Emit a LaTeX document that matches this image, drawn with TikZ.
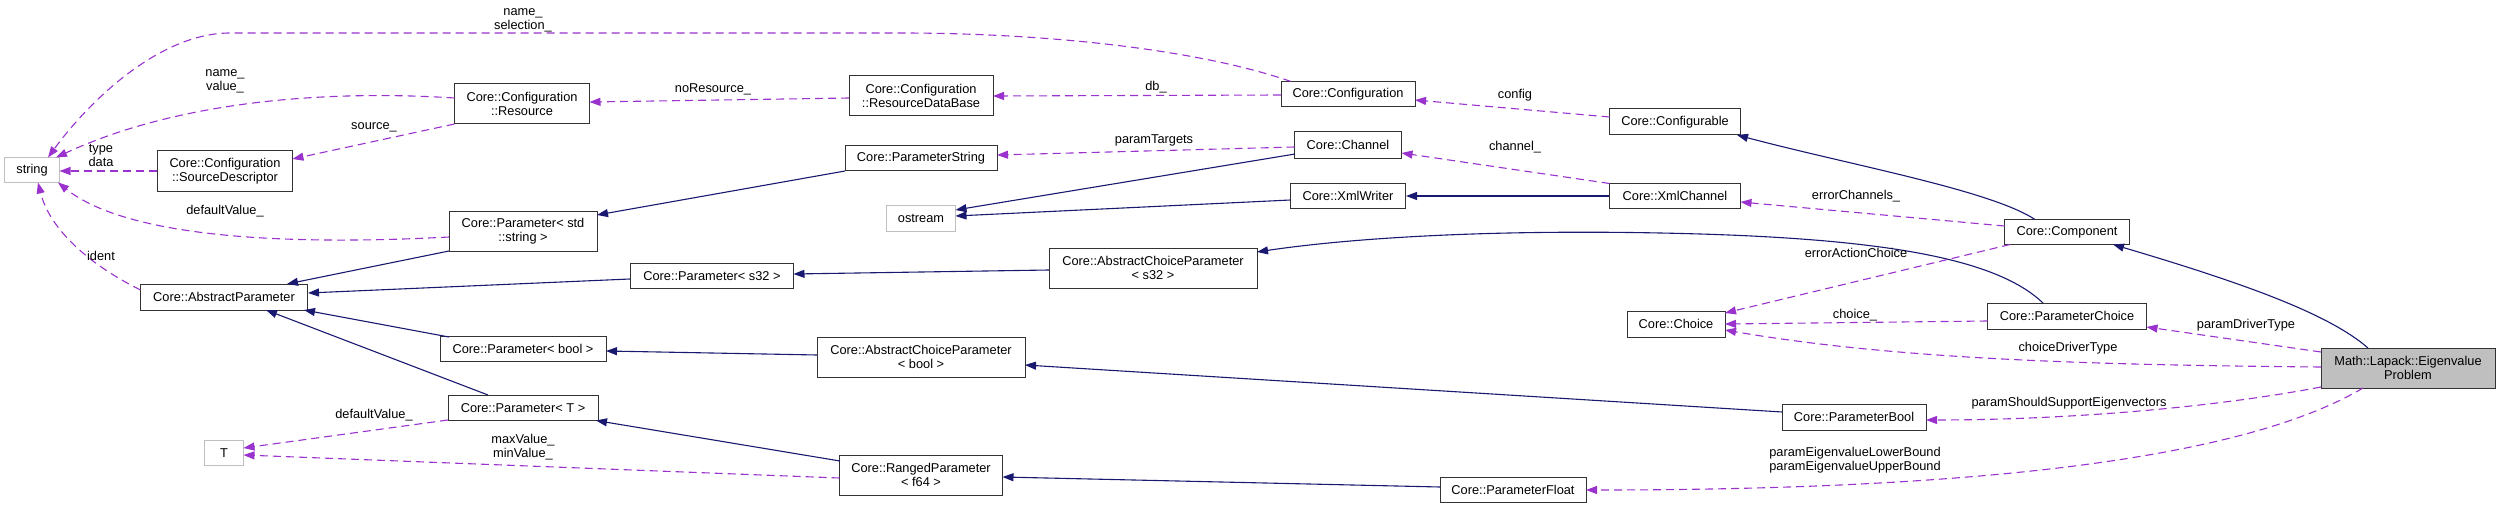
\documentclass[tikz,border=0pt]{standalone}
\usepackage{fontspec}
\setmainfont{Liberation Sans}
\usetikzlibrary{arrows.meta}
\definecolor{inhc}{HTML}{191970}
\definecolor{usec}{HTML}{9A32CD}
\definecolor{extc}{HTML}{BFBFBF}
\begin{document}
\begin{tikzpicture}[x=1pt,y=-1pt,
  box/.style={draw=black!80, line width=1pt, fill=white, inner sep=0pt, align=center,
    font=\fontsize{12.8}{14}\selectfont},
  extbox/.style={box, draw=extc},
  mainbox/.style={box, fill=extc},
  lbl/.style={inner sep=0pt, align=center, font=\fontsize{12.8}{14}\selectfont},
  inh/.style={draw=inhc, line width=1.1pt, -{Triangle[length=11pt,width=8pt]}},
  use/.style={draw=usec, line width=1.1pt, dash pattern=on 8pt off 5pt, -{Triangle[length=11pt,width=8pt]}}
]
\useasboundingbox (0,0) rectangle (2500,508);
% nodes
\node[extbox, minimum width=55pt, minimum height=25pt] (str) at (32,170) {string};
\node[box, minimum width=135pt, minimum height=40pt] (res) at (522,104) {Core::Configuration\\::Resource};
\node[box, minimum width=135pt, minimum height=40pt] (src) at (225,171) {Core::Configuration\\::SourceDescriptor};
\node[box, minimum width=148pt, minimum height=40pt] (pstr) at (523,231) {Core::Parameter< std\\::string >};
\node[box, minimum width=167pt, minimum height=26pt] (ap) at (224,297) {Core::AbstractParameter};
\node[box, minimum width=163pt, minimum height=25pt] (ps32) at (712,276) {Core::Parameter< s32 >};
\node[box, minimum width=166pt, minimum height=25pt] (pbool) at (523,349) {Core::Parameter< bool >};
\node[box, minimum width=150pt, minimum height=25pt] (pt) at (523,408) {Core::Parameter< T >};
\node[extbox, minimum width=39pt, minimum height=25pt] (T) at (224,453) {T};
\node[box, minimum width=144pt, minimum height=40pt] (rdb) at (921,96) {Core::Configuration\\::ResourceDataBase};
\node[box, minimum width=134pt, minimum height=25pt] (conf) at (1348,94) {Core::Configuration};
\node[box, minimum width=131pt, minimum height=26pt] (cfgb) at (1675,122) {Core::Configurable};
\node[box, minimum width=152pt, minimum height=25pt] (pstring) at (921,158) {Core::ParameterString};
\node[box, minimum width=107pt, minimum height=26pt] (chan) at (1348,145) {Core::Channel};
\node[box, minimum width=115pt, minimum height=25pt] (xw) at (1348,196) {Core::XmlWriter};
\node[box, minimum width=131pt, minimum height=25pt] (xc) at (1675,196) {Core::XmlChannel};
\node[extbox, minimum width=69pt, minimum height=26pt] (ost) at (921,218) {ostream};
\node[box, minimum width=208pt, minimum height=40pt] (acps) at (1153,268) {Core::AbstractChoiceParameter\\< s32 >};
\node[box, minimum width=208pt, minimum height=40pt] (acpb) at (921,357) {Core::AbstractChoiceParameter\\< bool >};
\node[box, minimum width=163pt, minimum height=40pt] (rp) at (921,475) {Core::RangedParameter\\< f64 >};
\node[box, minimum width=146pt, minimum height=25pt] (pf) at (1513,490) {Core::ParameterFloat};
\node[box, minimum width=98pt, minimum height=26pt] (choice) at (1676,324) {Core::Choice};
\node[box, minimum width=125pt, minimum height=25pt] (comp) at (2067,232) {Core::Component};
\node[box, minimum width=159pt, minimum height=26pt] (pc) at (2067,316) {Core::ParameterChoice};
\node[box, minimum width=144pt, minimum height=26pt] (pb) at (1854,417) {Core::ParameterBool};
\node[mainbox, minimum width=174pt, minimum height=40pt] (eig) at (2408,368) {Math::Lapack::Eigenvalue\\Problem};
% inheritance
\draw[inh] ([shift={(-74,20)}]pstr.center) -- ([shift={(63,-13)}]ap.center);
\draw[inh] ([shift={(-76,13)}]pstring.center) -- ([shift={(74,-16)}]pstr.center);
\draw[inh] ([shift={(-82,3)}]ps32.center) -- ([shift={(84,-4)}]ap.center);
\draw[inh] ([shift={(-104,2)}]acps.center) -- ([shift={(81.5,-2)}]ps32.center);
\draw[inh] ([shift={(-24,-13)}]pc.center) .. controls (2000,262) and (1900,240) .. (1700,234) .. controls (1500,228) and (1350,238) .. ([shift={(104,-16)}]acps.center);
\draw[inh] ([shift={(-74,-12)}]pbool.center) -- ([shift={(80,13)}]ap.center);
\draw[inh] ([shift={(-104,-2)}]acpb.center) -- ([shift={(83,2)}]pbool.center);
\draw[inh] ([shift={(-72,-5)}]pb.center) -- ([shift={(104,8)}]acpb.center);
\draw[inh] ([shift={(-35,-13)}]pt.center) -- ([shift={(42,13)}]ap.center);
\draw[inh] ([shift={(-81,-14)}]rp.center) -- ([shift={(73,12.5)}]pt.center);
\draw[inh] ([shift={(-73,-3)}]pf.center) -- ([shift={(81.5,2)}]rp.center);
\draw[inh] ([shift={(-53,9)}]chan.center) -- ([shift={(34.5,-8)}]ost.center);
\draw[inh] ([shift={(-57.5,4)}]xw.center) -- ([shift={(34.5,-2)}]ost.center);
\draw[inh] (xc.west) -- (xw.east);
\draw[inh] ([shift={(-32,-12.5)}]comp.center) .. controls (1990,190) and (1850,165) .. ([shift={(62,13)}]cfgb.center);
\draw[inh] ([shift={(-40,-20)}]eig.center) .. controls (2330,315) and (2250,285) .. ([shift={(46,12.5)}]comp.center);
% usage
\draw[use] ([shift={(-57,-12.5)}]conf.center) .. controls (1200,50) and (1050,33) .. (900,33) -- (230,33) .. controls (160,33) and (90,100) .. ([shift={(16,-12.5)}]str.center);
\draw[use] ([shift={(-67.5,-6)}]res.center) .. controls (330,90) and (180,100) .. ([shift={(24,-12.5)}]str.center);
\draw[use] ([shift={(-72,2)}]rdb.center) -- ([shift={(67.5,-2)}]res.center);
\draw[use] ([shift={(-67,1)}]conf.center) -- ([shift={(72,0)}]rdb.center);
\draw[use] ([shift={(-67.5,20)}]res.center) -- ([shift={(67.5,-12)}]src.center);
\draw[use] (src.west) -- ([shift={(27.5,1)}]str.center);
\draw[use] ([shift={(-74,6)}]pstr.center) .. controls (300,245) and (130,240) .. ([shift={(26,12.5)}]str.center);
\draw[use] ([shift={(-83.5,-7)}]ap.center) .. controls (90,265) and (50,230) .. ([shift={(6,12.5)}]str.center);
\draw[use] ([shift={(-65.5,-5)}]cfgb.center) -- ([shift={(67,6)}]conf.center);
\draw[use] ([shift={(-53.5,2)}]chan.center) -- ([shift={(76,-3)}]pstring.center);
\draw[use] ([shift={(-65.5,-12.5)}]xc.center) -- ([shift={(53.5,8)}]chan.center);
\draw[use] ([shift={(-62.5,-6)}]comp.center) -- ([shift={(65.5,6)}]xc.center);
\draw[use] ([shift={(-57,12.5)}]comp.center) -- ([shift={(49,-11)}]choice.center);
\draw[use] ([shift={(-79.5,5)}]pc.center) -- ([shift={(49,0)}]choice.center);
\draw[use] ([shift={(-87,-16)}]eig.center) -- ([shift={(79.5,11)}]pc.center);
\draw[use] ([shift={(-87,-1)}]eig.center) .. controls (2100,365) and (1900,360) .. ([shift={(49,6)}]choice.center);
\draw[use] ([shift={(-87,19)}]eig.center) .. controls (2200,410) and (2050,420) .. ([shift={(72,3)}]pb.center);
\draw[use] ([shift={(-45,20)}]eig.center) .. controls (2250,455) and (2000,490) .. ([shift={(73,0)}]pf.center);
\draw[use] ([shift={(-75,12)}]pt.center) -- ([shift={(19.5,-5)}]T.center);
\draw[use] ([shift={(-81.5,3)}]rp.center) -- ([shift={(19.5,2)}]T.center);
% labels
\node[lbl] (l1) at (523,20) {name\_\\selection\_};
\node[lbl] (l2) at (225,81) {name\_\\value\_};
\node[lbl] (l3) at (713,89) {noResource\_};
\node[lbl] (l4) at (1156,87) {db\_};
\node[lbl] (l5) at (374,127) {source\_};
\node[lbl] (l6) at (101,155) {type\\data};
\node[lbl] (l7) at (225,211) {defaultValue\_};
\node[lbl] (l8) at (101,256) {ident};
\node[lbl] (l9) at (1515,95) {config};
\node[lbl] (l10) at (1154,140) {paramTargets};
\node[lbl] (l11) at (1515,147) {channel\_};
\node[lbl] (l12) at (1856,196) {errorChannels\_};
\node[lbl] (l13) at (1856,253) {errorActionChoice};
\node[lbl] (l14) at (1855,315) {choice\_};
\node[lbl] (l15) at (2246,325) {paramDriverType};
\node[lbl] (l16) at (2068,348) {choiceDriverType};
\node[lbl] (l17) at (2069,403) {paramShouldSupportEigenvectors};
\node[lbl] (l18) at (1855,460) {paramEigenvalueLowerBound\\paramEigenvalueUpperBound};
\node[lbl] (l19) at (374,415) {defaultValue\_};
\node[lbl] (l20) at (523,447) {maxValue\_\\minValue\_};
\end{tikzpicture}
\end{document}
